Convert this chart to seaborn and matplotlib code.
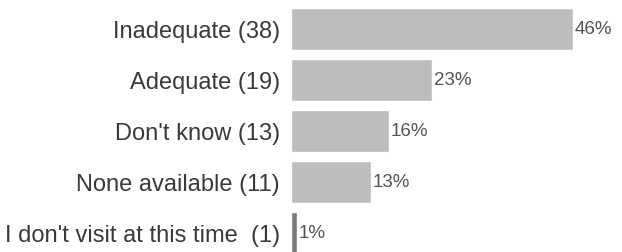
import pandas as pd
import matplotlib.pyplot as plt
import seaborn as sns

# =========================
# Data
# =========================

categories = [
    "Inadequate (38)",
    "Adequate (19)",
    "Don't know (13)",
    "None available (11)",
    "I don't visit at this time  (1)",
]
percents = [46, 23, 16, 13, 1]
pct_labels = ["46%", "23%", "16%", "13%", "1%"]

df = pd.DataFrame({"category": categories, "percent": percents})

# =========================
# Style
# =========================

sns.set_style("white")
plt.rcParams["font.family"] = ["Liberation Sans", "DejaVu Sans"]

fig = plt.figure(figsize=(6.22, 2.52), dpi=100)
ax = fig.add_axes([291 / 622, 0, 1 - 291 / 622, 1])

bar_colors = ["#bdbdbd", "#bdbdbd", "#bdbdbd", "#bdbdbd", "#7a7a7a"]

sns.barplot(
    data=df,
    x="percent",
    y="category",
    hue="category",
    palette=bar_colors,
    legend=False,
    width=0.82,
    ax=ax,
)

for patch, lab in zip(ax.patches, pct_labels):
    ax.text(
        patch.get_width() + 0.3,
        patch.get_y() + patch.get_height() / 2,
        lab,
        va="center",
        ha="left",
        fontsize=13.5,
        color="#555555",
    )

ax.set_xlim(0, 54)
ax.set_ylim(4.37, -0.57)
ax.set_xlabel("")
ax.set_ylabel("")
ax.set_xticks([])
ax.tick_params(axis="y", length=0, pad=8, labelsize=17, labelcolor="#3a3a3a")
sns.despine(ax=ax, left=True, bottom=True)

plt.savefig("out.png", dpi=100)
